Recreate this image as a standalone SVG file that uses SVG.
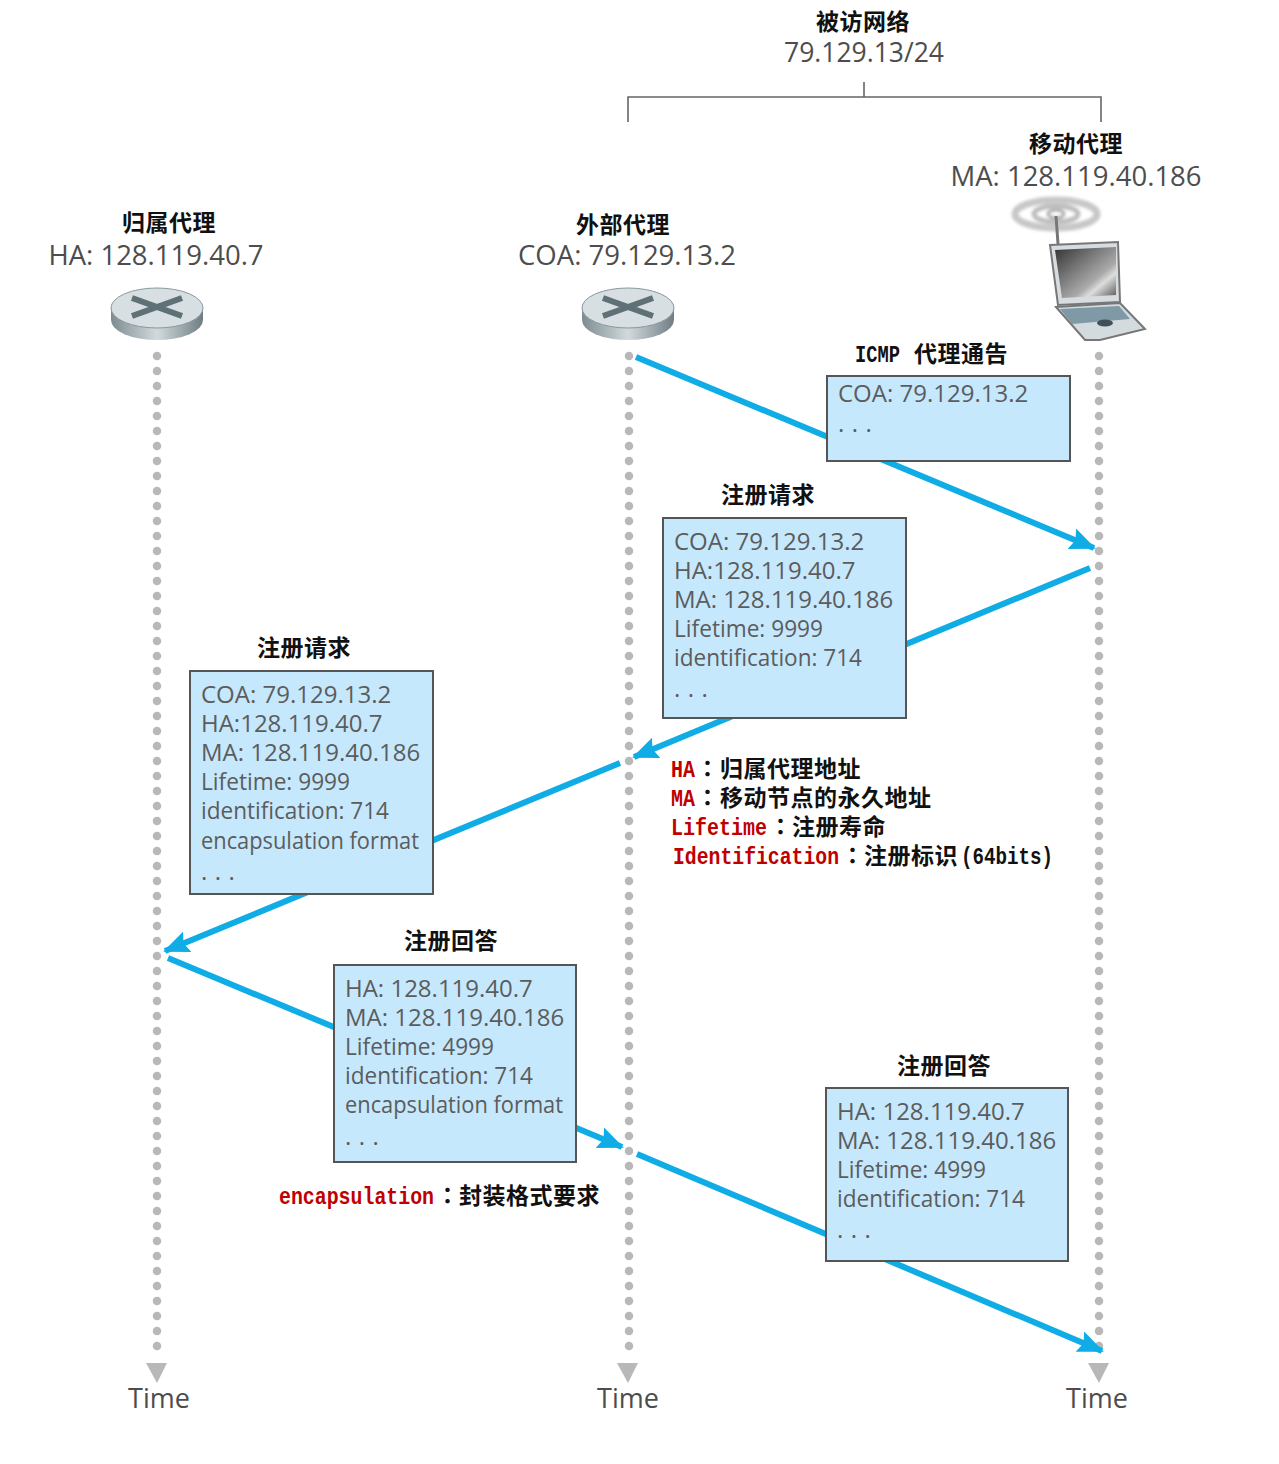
<svg xmlns="http://www.w3.org/2000/svg" width="1279" height="1464" viewBox="0 0 1279 1464">
<style>
.t{font-family:"Open Sans","Noto Sans",sans-serif;fill:#4d4d4d;font-size:27.5px}
.n{font-family:"Open Sans","Noto Sans",sans-serif;fill:#4d4d4d;font-size:26.5px}
.b{font-family:"Open Sans","Noto Sans",sans-serif;fill:#5c5c5c;font-size:24px}
.d{font-family:"Open Sans","Noto Sans",sans-serif;fill:#5c5c5c;font-size:24px;letter-spacing:.6px}
.h{font-family:"Open Sans","Noto Sans",sans-serif;fill:#4d4d4d;font-size:27px}
.c{font-family:"Noto Sans CJK SC",sans-serif;font-size:23px;fill:#111;font-weight:bold;letter-spacing:.5px}
.colon{font-family:"Noto Sans CJK TC",sans-serif}
.m{font-family:"Liberation Mono",monospace;font-size:23px;font-weight:bold;fill:#111}
.r{font-family:"Liberation Mono",monospace;fill:#c00000;font-size:23px;font-weight:bold}
.box{fill:#c5e8fd;stroke:#555;stroke-width:2}
.life{stroke:#b8b8b8;stroke-width:8.500;stroke-linecap:round;stroke-dasharray:0 15;fill:none}
.msg{stroke:#10ace6;stroke-width:6;fill:none;marker-end:url(#ah)}
.brk{stroke:#666;stroke-width:1.6;fill:none}
</style>
<defs>
<marker id="ah" markerUnits="userSpaceOnUse" markerWidth="28" markerHeight="26" refX="24" refY="13" orient="auto">
<path d="M0 2 L26 13 L0 24 L4 13Z" fill="#10ace6"/>
</marker>
<linearGradient id="rs" x1="0" x2="1" y1="0" y2="0">
<stop offset="0" stop-color="#7d8c91"/><stop offset=".5" stop-color="#d2dadd"/><stop offset="1" stop-color="#6f7e84"/>
</linearGradient>
<linearGradient id="scr" x1="0" x2="1" y1="0" y2="1">
<stop offset="0" stop-color="#333"/><stop offset=".65" stop-color="#aaa"/><stop offset=".75" stop-color="#ddd"/><stop offset="1" stop-color="#555"/>
</linearGradient>
<filter id="soft" x="-10%" y="-10%" width="120%" height="120%"><feGaussianBlur stdDeviation="0.700"/></filter>
<filter id="soft2" x="-10%" y="-20%" width="120%" height="140%"><feGaussianBlur stdDeviation="1.500"/></filter>
<g id="router" filter="url(#soft)">
<path d="M-46 0 V12 A46 20 0 0 0 46 12 V0Z" fill="url(#rs)"/>
<ellipse cx="0" cy="0" rx="46" ry="20" fill="#d8dfe2" stroke="#8a979c"/>
<path d="M-25 -10 L25 8 M25 -10 L-25 8" stroke="#5f6f76" stroke-width="6" fill="none"/>
</g>
</defs>

<g id="lifelines">
<line class="life" x1="157" y1="356" x2="157" y2="1358"/>
<line class="life" x1="629" y1="356" x2="629" y2="1358"/>
<line class="life" x1="1099" y1="356" x2="1099" y2="1358"/>
<path d="M146 1363 H167 L157 1383Z M617 1363 H638 L628 1383Z M1088 1363 H1109 L1099 1383Z" fill="#b8b8b8"/>
</g>

<g id="connectors">
<line class="msg" x1="636" y1="357" x2="1094" y2="548"/>
<line class="msg" x1="1090" y1="568" x2="634" y2="757"/>
<line class="msg" x1="620" y1="763" x2="165" y2="951"/>
<line class="msg" x1="168" y1="958" x2="622" y2="1147"/>
<line class="msg" x1="637" y1="1154" x2="1102" y2="1351"/>
</g>

<g id="visited-network">
<path class="brk" d="M628 122 V97 H1101 V122 M864 82 V97"/>
<text class="c" x="863" y="30" text-anchor="middle">被访网络</text>
<text class="n" x="864" y="62" text-anchor="middle">79.129.13/24</text>
</g>

<g id="home-agent">
<text class="c" x="169" y="231" text-anchor="middle">归属代理</text>
<text class="t" x="156" y="265" text-anchor="middle">HA: 128.119.40.7</text>
<use href="#router" x="157" y="308"/>
</g>

<g id="foreign-agent">
<text class="c" x="623" y="233" text-anchor="middle">外部代理</text>
<text class="t" x="627" y="265" text-anchor="middle">COA: 79.129.13.2</text>
<use href="#router" x="628" y="308"/>
</g>

<g id="mobile-agent">
<text class="c" x="1076" y="152" text-anchor="middle">移动代理</text>
<text class="t" x="1076" y="186" text-anchor="middle">MA: 128.119.40.186</text>
<g filter="url(#soft2)">
<ellipse cx="1056" cy="214" rx="41" ry="14" fill="none" stroke="#c8c8c8" stroke-width="7"/>
<ellipse cx="1056" cy="214" rx="22" ry="8" fill="none" stroke="#bdbdbd" stroke-width="5"/>
<ellipse cx="1056" cy="214" rx="8" ry="4" fill="none" stroke="#aaa" stroke-width="3"/>
</g>
<g filter="url(#soft)">
<line x1="1056" y1="216" x2="1058" y2="244" stroke="#777" stroke-width="3"/>
<path d="M1050 245 L1118 242 L1120 302 L1058 305Z" fill="#d6dcdf" stroke="#777" stroke-width="2"/>
<path d="M1055 250 L1116 247 L1116 295 L1062 298Z" fill="url(#scr)"/>
<path d="M1056 307 L1120 303 L1145 329 L1100 340 L1085 340Z" fill="#d3dbdf" stroke="#777" stroke-width="2"/>
<path d="M1060 309 L1119 306 L1130 319 L1072 324Z" fill="#7f99a6"/>
<ellipse cx="1105" cy="323" rx="8" ry="3.500" fill="#3f5058"/>
</g>
</g>

<g id="msg-icmp">
<text class="m" x="855" y="362" textLength="45" lengthAdjust="spacingAndGlyphs">ICMP</text>
<text class="c" x="914" y="362">代理通告</text>
<rect class="box" x="827" y="376" width="243" height="85"/>
<text class="b" x="838" y="402">COA: 79.129.13.2</text>
<text class="d" x="838" y="432">. . .</text>
</g>

<g id="msg-reg-req-1">
<text class="c" x="768" y="503" text-anchor="middle">注册请求</text>
<rect class="box" x="663" y="518" width="243" height="200"/>
<text class="b" x="674" y="550">COA: 79.129.13.2</text>
<text class="b" x="674" y="579">HA:128.119.40.7</text>
<text class="b" x="674" y="608">MA: 128.119.40.186</text>
<text class="b" x="674" y="637" textLength="149" lengthAdjust="spacingAndGlyphs">Lifetime: 9999</text>
<text class="b" x="674" y="666" textLength="188" lengthAdjust="spacingAndGlyphs">identification: 714</text>
<text class="d" x="674" y="697">. . .</text>
</g>

<g id="legend">
<text class="r" x="671" y="777" textLength="24" lengthAdjust="spacingAndGlyphs">HA</text><text class="c colon" x="696" y="777">：</text><text class="c" x="720" y="777">归属代理地址</text>
<text class="r" x="671" y="806" textLength="24" lengthAdjust="spacingAndGlyphs">MA</text><text class="c colon" x="696" y="806">：</text><text class="c" x="720" y="806">移动节点的永久地址</text>
<text class="r" x="671" y="835" textLength="96" lengthAdjust="spacingAndGlyphs">Lifetime</text><text class="c colon" x="769" y="835">：</text><text class="c" x="792" y="835">注册寿命</text>
<text class="r" x="673" y="864" textLength="166" lengthAdjust="spacingAndGlyphs">Identification</text><text class="c colon" x="841" y="864">：</text><text class="c" x="864" y="864">注册标识</text><text class="m" x="961" y="864" textLength="92" lengthAdjust="spacingAndGlyphs">(64bits)</text>
</g>

<g id="msg-reg-req-2">
<text class="c" x="304" y="656" text-anchor="middle">注册请求</text>
<rect class="box" x="190" y="671" width="243" height="223"/>
<text class="b" x="201" y="703">COA: 79.129.13.2</text>
<text class="b" x="201" y="732">HA:128.119.40.7</text>
<text class="b" x="201" y="761">MA: 128.119.40.186</text>
<text class="b" x="201" y="790" textLength="149" lengthAdjust="spacingAndGlyphs">Lifetime: 9999</text>
<text class="b" x="201" y="819" textLength="188" lengthAdjust="spacingAndGlyphs">identification: 714</text>
<text class="b" x="201" y="849" textLength="218" lengthAdjust="spacingAndGlyphs">encapsulation format</text>
<text class="d" x="201" y="880">. . .</text>
</g>

<g id="msg-reg-reply-1">
<text class="c" x="451" y="949" text-anchor="middle">注册回答</text>
<rect class="box" x="334" y="965" width="242" height="197"/>
<text class="b" x="345" y="997">HA: 128.119.40.7</text>
<text class="b" x="345" y="1026">MA: 128.119.40.186</text>
<text class="b" x="345" y="1055" textLength="149" lengthAdjust="spacingAndGlyphs">Lifetime: 4999</text>
<text class="b" x="345" y="1084" textLength="188" lengthAdjust="spacingAndGlyphs">identification: 714</text>
<text class="b" x="345" y="1113" textLength="218" lengthAdjust="spacingAndGlyphs">encapsulation format</text>
<text class="d" x="345" y="1145">. . .</text>
<text class="r" x="279" y="1204" textLength="155" lengthAdjust="spacingAndGlyphs">encapsulation</text><text class="c colon" x="436" y="1204">：</text><text class="c" x="459" y="1204">封装格式要求</text>
</g>

<g id="msg-reg-reply-2">
<text class="c" x="944" y="1074" text-anchor="middle">注册回答</text>
<rect class="box" x="826" y="1088" width="242" height="173"/>
<text class="b" x="837" y="1120">HA: 128.119.40.7</text>
<text class="b" x="837" y="1149">MA: 128.119.40.186</text>
<text class="b" x="837" y="1178" textLength="149" lengthAdjust="spacingAndGlyphs">Lifetime: 4999</text>
<text class="b" x="837" y="1207" textLength="188" lengthAdjust="spacingAndGlyphs">identification: 714</text>
<text class="d" x="837" y="1238">. . .</text>
</g>

<g id="time-labels">
<text class="h" x="159" y="1408" text-anchor="middle">Time</text>
<text class="h" x="628" y="1408" text-anchor="middle">Time</text>
<text class="h" x="1097" y="1408" text-anchor="middle">Time</text>
</g>
</svg>
